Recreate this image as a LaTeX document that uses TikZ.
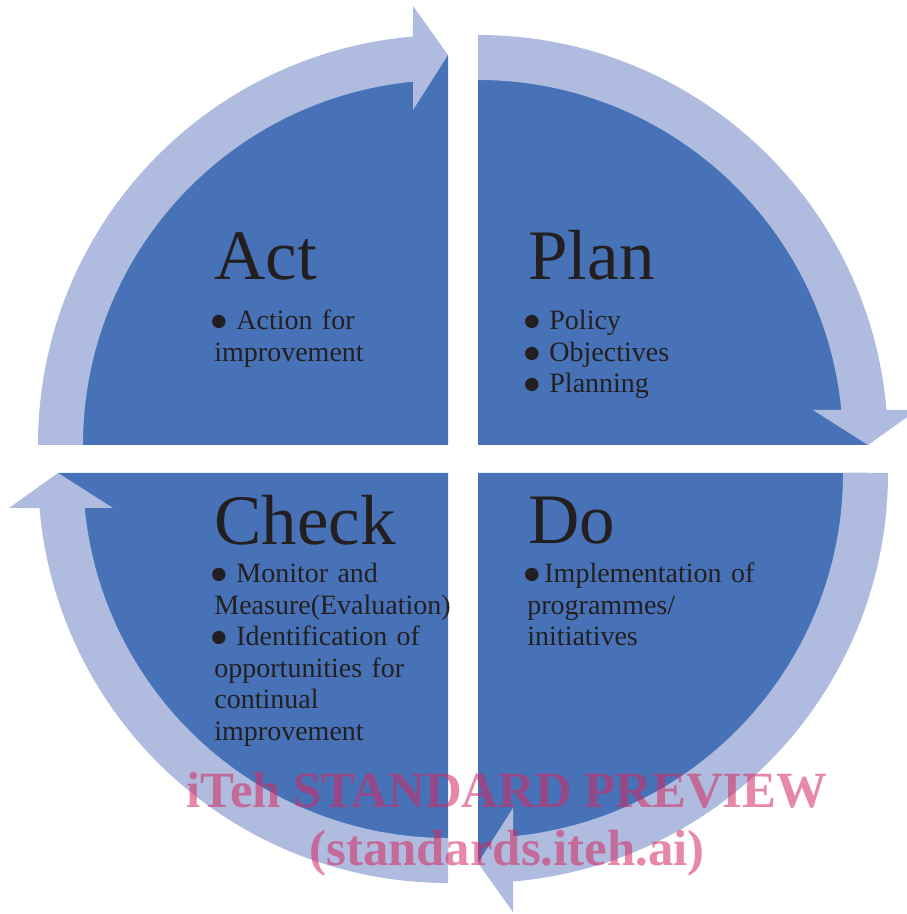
\documentclass[tikz,border=0pt]{standalone}
\usepackage{fontspec}
\setmainfont{Liberation Serif}

\definecolor{pdcaDark}{HTML}{4872B7}
\definecolor{pdcaLight}{HTML}{AFBCDF}
\definecolor{pdcaText}{HTML}{231F20}
\definecolor{wmPink}{RGB}{213,39,97}

% bullet with a gap after it
\newcommand{\itm}[1][3.7pt]{\leavevmode\kern-2.5pt\smash{\raisebox{-5.4pt}{\scalebox{2}{\textbullet}}}\hspace{#1}}

\begin{document}
\begin{tikzpicture}[
    x=0.5pt, y=0.5pt,
    quad/.style  = {fill=pdcaDark},
    ring/.style  = {fill=pdcaLight},
    title/.style = {anchor=base west, inner sep=0pt, text=pdcaText,
                    font=\fontsize{35.5}{40}\selectfont},
    items/.style = {anchor=base west, inner sep=0pt, text=pdcaText,
                    text width=130pt, align=left,
                    font=\fontsize{14}{15.75}\selectfont},
    stamp/.style = {anchor=base, inner sep=0pt, text=wmPink, opacity=0.55,
                    font=\fontsize{25.4}{29}\selectfont\bfseries},
]
\useasboundingbox (0,0) rectangle (906,914);

% quarter discs, each with its curved arrow on top
\foreach \cx/\cy/\rot in {448/469/0, 478/469/-90, 478/441/-180, 448/441/-270}{
  \begin{scope}[shift={(\cx,\cy)}, rotate=\rot]
    \fill[quad] (0,0) -- (180:390) arc[start angle=180, end angle=90, radius=390] -- cycle;
    \fill[ring] (180:410) arc[start angle=180, end angle=94.9, radius=410]
      -- (-35,439) -- (0,390) -- (-35,335) -- (-35,363.3)
      arc[start angle=95.5, end angle=180, radius=365] -- cycle;
  \end{scope}
}

% Act
\node[title] (act)      at (214,634) {Act};
\node[items] (actlist)  at (214,584) {\itm Action for\\improvement};

% Plan
\node[title] (plan)     at (528,634) {Plan};
\node[items] (planlist) at (527,584) {\itm Policy\\ \itm Objectives\\ \itm Planning};

% Check
\node[title] (check)     at (214,369) {Check};
\node[items] (checklist) at (214,331) {\itm Monitor and\\Measure(Evaluation)\\
                                       \itm Identification of\\opportunities for\\
                                       continual\\improvement};

% Do
\node[title] (do)     at (528,370) {Do};
\node[items] (dolist) at (527,331) {\itm[1.2pt]Implementation of\\programmes/\\initiatives};

% preview stamp
\node[stamp] (preview)    at (507,106) {iTeh STANDARD PREVIEW};
\node[stamp] (previewurl) at (507,48)  {(standards.iteh.ai)};
\end{tikzpicture}
\end{document}
